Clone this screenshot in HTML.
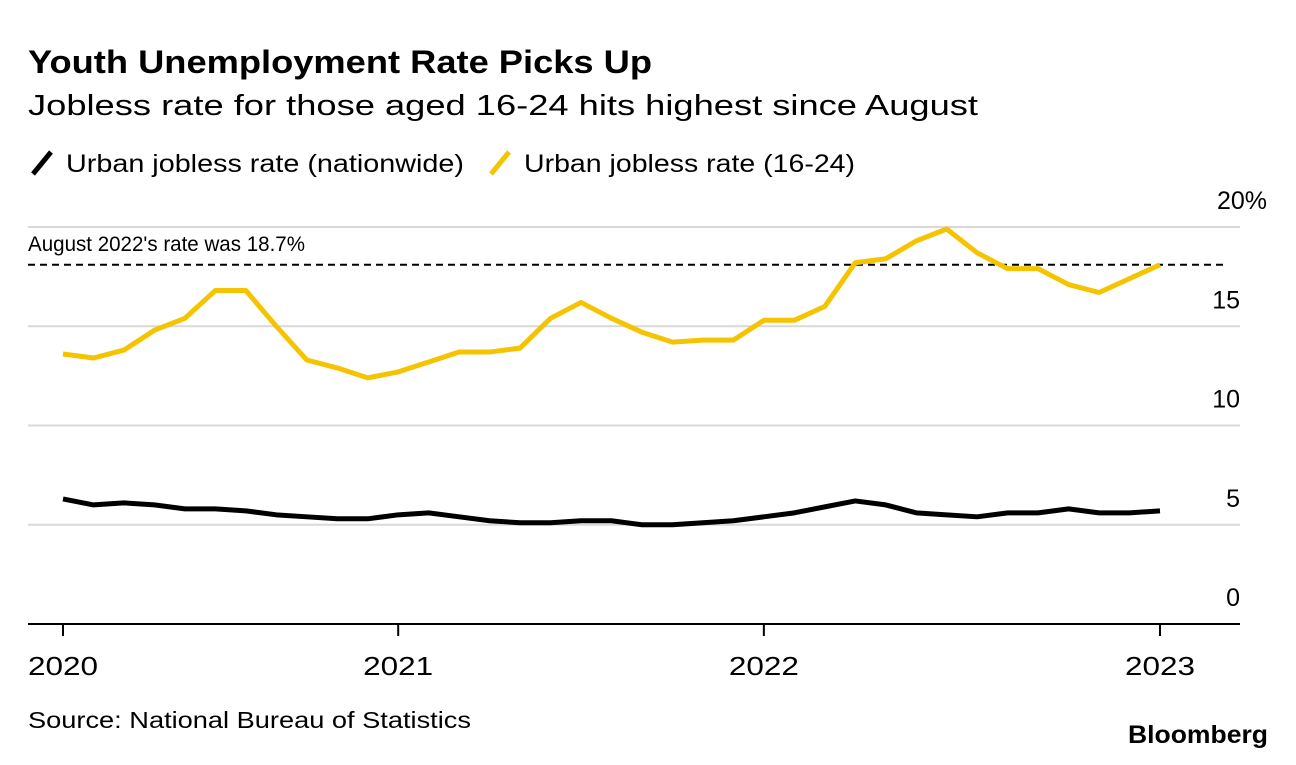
<!DOCTYPE html>
<html><head><meta charset="utf-8"><style>
body{margin:0;background:#fff;width:1296px;height:760px;overflow:hidden;font-family:"Liberation Sans",Arial,sans-serif;}
svg text{font-family:"Liberation Sans",Arial,sans-serif;}
</style></head><body>
<svg id="chart" width="1296" height="760">
<text x="28" y="73" font-size="32" font-weight="bold" fill="#000" textLength="624" lengthAdjust="spacingAndGlyphs">Youth Unemployment Rate Picks Up</text>
<text x="28" y="115" font-size="29" fill="#000" textLength="950" lengthAdjust="spacingAndGlyphs">Jobless rate for those aged 16-24 hits highest since August</text>
<g>
<line x1="33" y1="174" x2="51" y2="152" stroke="#000" stroke-width="5"/>
<text x="66" y="172" font-size="25" textLength="398" lengthAdjust="spacingAndGlyphs">Urban jobless rate (nationwide)</text>
<line x1="491" y1="174" x2="509" y2="152" stroke="#f5c400" stroke-width="5"/>
<text x="524" y="172" font-size="25" textLength="331" lengthAdjust="spacingAndGlyphs">Urban jobless rate (16-24)</text>
</g>
<g id="grid"></g><g id="axes"></g><g id="series"></g>
<text x="28" y="251" font-size="21" textLength="277" lengthAdjust="spacingAndGlyphs">August 2022's rate was 18.7%</text>
<text x="28" y="728" font-size="23" textLength="443" lengthAdjust="spacingAndGlyphs">Source: National Bureau of Statistics</text>
<text x="1128" y="743" font-size="25" font-weight="bold" textLength="140" lengthAdjust="spacingAndGlyphs">Bloomberg</text>
</svg>
<script>
const youth=[13.6,13.4,13.8,14.8,15.4,16.8,16.8,15.0,13.3,12.9,12.4,12.7,13.2,13.7,13.7,13.9,15.4,16.2,15.4,14.7,14.2,14.3,14.3,15.3,15.3,16.0,18.2,18.4,19.3,19.9,18.7,17.9,17.9,17.1,16.7,17.4,18.1];
const nationwide=[6.3,6.0,6.1,6.0,5.8,5.8,5.7,5.5,5.4,5.3,5.3,5.5,5.6,5.4,5.2,5.1,5.1,5.2,5.2,5.0,5.0,5.1,5.2,5.4,5.6,5.9,6.2,6.0,5.6,5.5,5.4,5.6,5.6,5.8,5.6,5.6,5.7];
const yTicks=[0,5,10,15,20];
const yTickLabels=["0","5","10","15","20%"];
const xTickIdx=[0,11,23,36];
const xTickLabels=["2020","2021","2022","2023"];
const refValue=18.1;
const NS="http://www.w3.org/2000/svg";
const x0=63,x1=1160,L=28,R=1240,yBase=624,yTop=227;
const xs=i=>x0+(x1-x0)*i/(youth.length-1);
const ys=v=>yBase-(yBase-yTop)*v/20;
function mk(tag,attrs,parent){const e=document.createElementNS(NS,tag);for(const k in attrs)e.setAttribute(k,attrs[k]);document.getElementById(parent).appendChild(e);return e;}
yTicks.forEach((t,i)=>{
 if(t>0){const g=mk('line',{x1:L,x2:R,y1:ys(t),y2:ys(t),stroke:'#d9d9d9','stroke-width':2},'grid');
 
 }
 const tx=mk('text',{x:R,y:ys(t)-18,'font-size':25,'text-anchor':'end'},'axes');
 if(t==20){tx.setAttribute('x',1267);}
 tx.textContent=yTickLabels[i];
 
 
});
const ax=mk('line',{x1:L,x2:R,y1:yBase,y2:yBase,stroke:'#000','stroke-width':2},'axes');


xTickIdx.forEach((ix,i)=>{
 const tk=mk('line',{x1:xs(ix),x2:xs(ix),y1:yBase,y2:yBase+12,stroke:'#000','stroke-width':2},'axes');
 
 
 const tx=mk('text',{x:xs(ix),y:yBase+51,'font-size':26,'text-anchor':'middle',textLength:70,lengthAdjust:'spacingAndGlyphs'},'axes');
 tx.textContent=xTickLabels[i];
 
 
});
const ref=mk('line',{x1:L,x2:R-15,y1:ys(refValue),y2:ys(refValue),stroke:'#000','stroke-width':2,'stroke-dasharray':'7,5'},'series');


function line(data,color,name){
 const p=mk('path',{d:data.map((v,i)=>(i?'L':'M')+xs(i)+','+ys(v)).join(''),fill:'none',stroke:color,'stroke-width':5,'stroke-linejoin':'round'},'series');
 
 
}
line(nationwide,'#000','nationwide-line');
line(youth,'#f5c400','youth-line');
</script>
</body></html>
